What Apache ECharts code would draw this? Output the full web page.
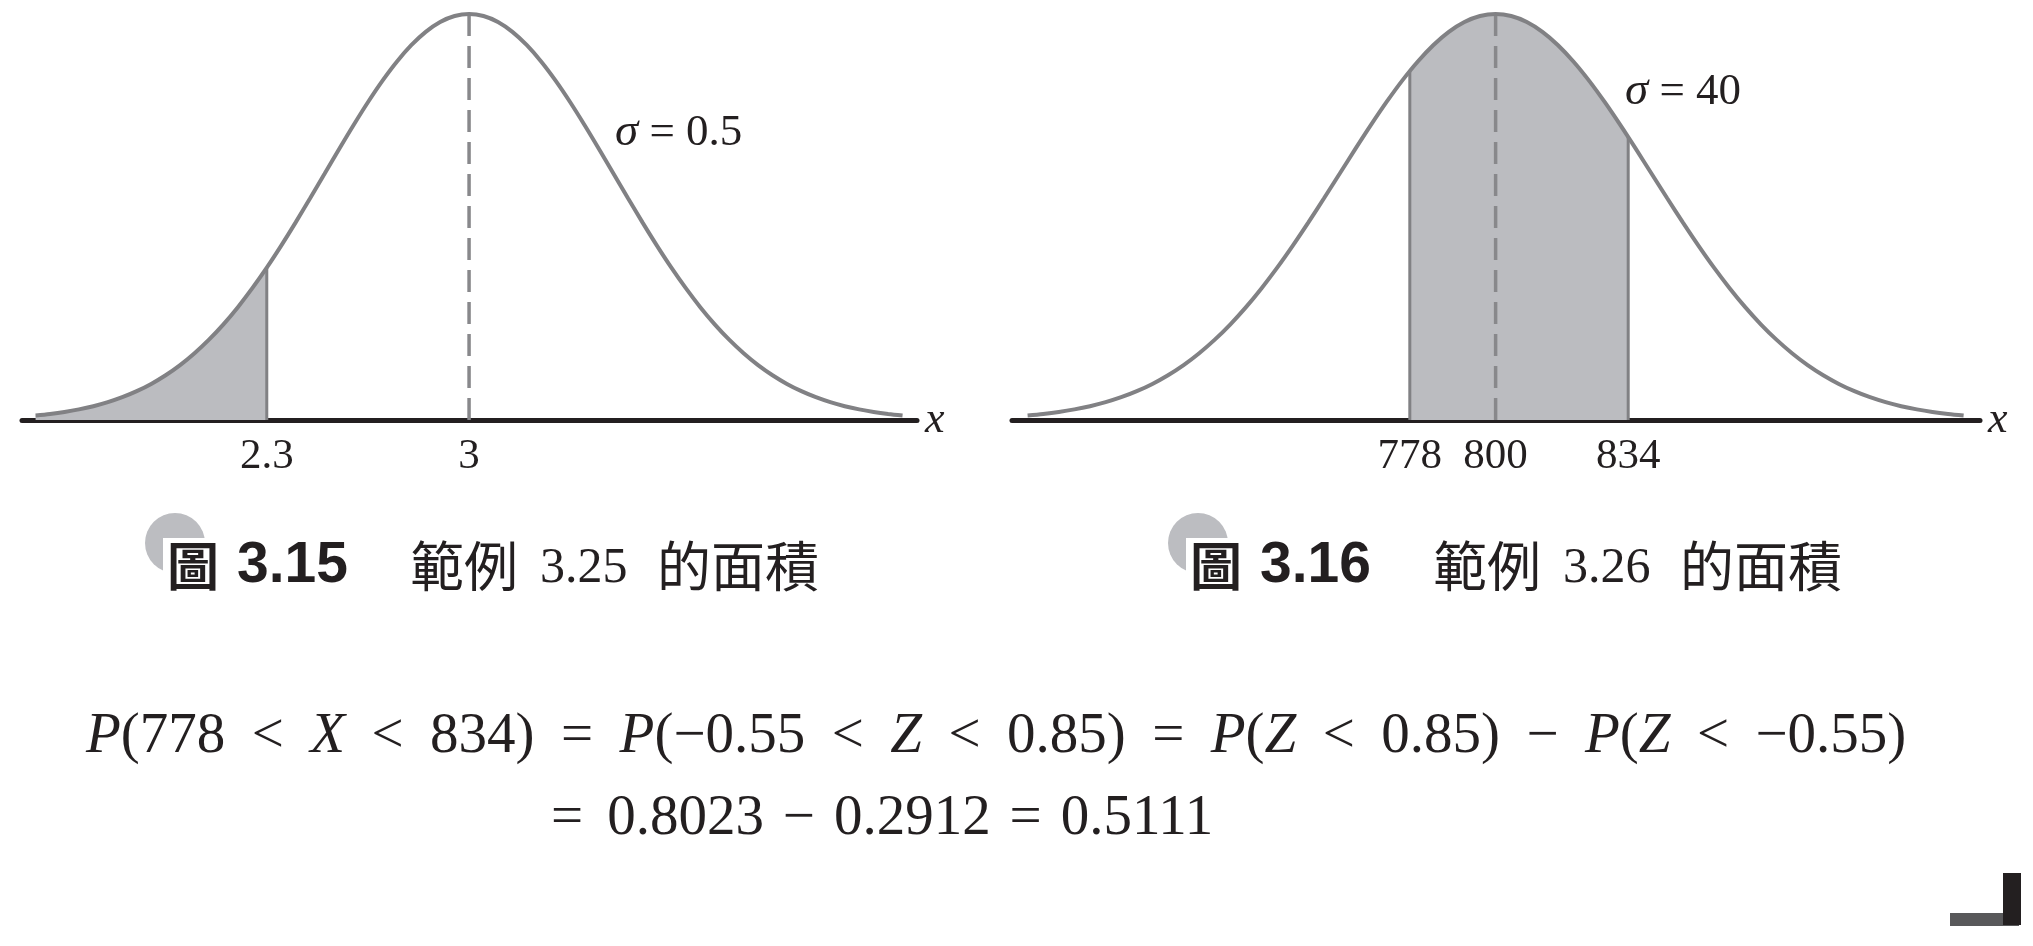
<!DOCTYPE html>
<html>
<head>
<meta charset="utf-8">
<script src="https://cdn.jsdelivr.net/npm/echarts@6/dist/echarts.min.js"></script>
<style>
html,body{margin:0;padding:0;background:#fff;}
#chart{width:2033px;height:946px;}
</style>
</head>
<body>
<div id="chart"></div>
<script>
// ---- data ----
// relative curve height (peak = 1) at the sampled x positions
var curveHeight = [0.0111,0.0149,0.0198,0.0261,0.0340,0.0439,0.0561,0.0710,0.0889,0.1103,0.1353,0.1645,0.1979,0.2357,0.2780,0.3247,0.3753,0.4296,0.4868,0.5461,0.6065,0.6670,0.7261,0.7827,0.8353,0.8825,0.9231,0.9560,0.9802,0.9950,1,0.9950,0.9802,0.9560,0.9231,0.8825,0.8353,0.7827,0.7261,0.6670,0.6065,0.5461,0.4868,0.4296,0.3753,0.3247,0.2780,0.2357,0.1979,0.1645,0.1353,0.1103,0.0889,0.0710,0.0561,0.0439,0.0340,0.0261,0.0198,0.0149,0.0111];
// left figure (mu = 3, sigma = 0.5)
var leftX = [1.5,1.55,1.6,1.65,1.7,1.75,1.8,1.85,1.9,1.95,2,2.05,2.1,2.15,2.2,2.25,2.3,2.35,2.4,2.45,2.5,2.55,2.6,2.65,2.7,2.75,2.8,2.85,2.9,2.95,3,3.05,3.1,3.15,3.2,3.25,3.3,3.35,3.4,3.45,3.5,3.55,3.6,3.65,3.7,3.75,3.8,3.85,3.9,3.95,4,4.05,4.1,4.15,4.2,4.25,4.3,4.35,4.4,4.45,4.5];
var leftMean = 3;
var leftTicks = [2.3, 3];
var leftCut = [2.3];          // shaded: x < 2.3
var leftCutH = [0.3753];
// right figure (mu = 800, sigma = 40)
var rightX = [680,684,688,692,696,700,704,708,712,716,720,724,728,732,736,740,744,748,752,756,760,764,768,772,776,780,784,788,792,796,800,804,808,812,816,820,824,828,832,836,840,844,848,852,856,860,864,868,872,876,880,884,888,892,896,900,904,908,912,916,920];
var rightMean = 800;
var rightTicks = [778, 800, 834];
var rightCut = [778, 834];    // shaded: 778 < x < 834
var rightCutH = [0.8596, 0.6968];
// texts
var sigmaLeft = '0.5', sigmaRight = '40';
var captionLeft = {num: '3.15', ex: '3.25'};
var captionRight = {num: '3.16', ex: '3.26'};

// ---- build ----
function pairs(xs, ys){ return xs.map(function(x,i){ return [x, ys[i]]; }); }
function shadePts(xs, cut, cutH){
  var pts = [];
  var lo = cut.length === 2 ? cut[0] : -Infinity, hi = cut.length === 2 ? cut[1] : cut[0];
  if (cut.length === 2) pts.push([cut[0], cutH[0]]);
  xs.forEach(function(x,i){ if (x > lo && x < hi) pts.push([x, curveHeight[i]]); });
  pts.push([hi, cutH[cutH.length-1]]);
  return pts;
}
var CURVE = '#818184', FILL = '#bbbcc0', AXIS = '#231f20', TXT = '#231f20';
var SERIF = '"Liberation Serif","Times New Roman",serif';
var CJK = '"Noto Sans CJK TC","Noto Sans CJK SC",sans-serif';

function xAxisDef(gi, mn, mx, ticks){
  return {
    type:'value', gridIndex: gi, min: mn, max: mx,
    axisLine:{show:true, onZero:false, lineStyle:{color:AXIS, width:5}},
    axisTick:{show:false}, splitLine:{show:false},
    axisLabel:{customValues: ticks, fontSize:43, fontFamily:SERIF, color:TXT, margin:15},
    name:'x', nameLocation:'end', nameGap:8,
    nameTextStyle:{fontSize:44, fontStyle:'italic', fontFamily:SERIF, color:TXT, verticalAlign:'middle', padding:[12,0,0,0]}
  };
}
function yAxisDef(gi){ return {type:'value', gridIndex: gi, min:0, max:1, show:false}; }

function figSeries(ai, xs, mean, cutX, cutH){
  var s = [];
  s.push({type:'line', xAxisIndex:ai, yAxisIndex:ai, data:shadePts(xs, cutX, cutH), smooth:0.3, symbol:'none',
    lineStyle:{width:0}, areaStyle:{color:FILL, opacity:1}, z:1, silent:true});
  cutX.forEach(function(c,i){
    s.push({type:'line', xAxisIndex:ai, yAxisIndex:ai, data:[[c,0],[c,cutH[i]]], symbol:'none',
      lineStyle:{color:CURVE, width:3}, z:2, silent:true});
  });
  s.push({type:'line', xAxisIndex:ai, yAxisIndex:ai, data:[[mean,1],[mean,0]], symbol:'none',
    lineStyle:{color:'#88888b', width:3.5, type:[22,10]}, z:2, silent:true});
  s.push({type:'line', xAxisIndex:ai, yAxisIndex:ai, data:pairs(xs, curveHeight), smooth:0.3, symbol:'none',
    lineStyle:{color:CURVE, width:4}, z:3, silent:true});
  return s;
}

function caption(cx, offs, cap){
  return [
    {type:'circle', shape:{cx:cx+offs.circle, cy:543, r:30}, style:{fill:'#bcbdc1'}, z:1},
    {type:'rect', shape:{x:cx+offs.rect, y:538, width:58, height:58}, style:{fill:'#fff'}, z:2},
    {type:'text', x:cx+offs.tu, y:566, z:3, style:{text:'圖', fontSize:52, fontWeight:'bold', fontFamily:CJK, fill:TXT, textAlign:'left', textVerticalAlign:'middle'}},
    {type:'text', x:cx+offs.num, y:566, z:3, style:{text:cap.num, fontSize:57, fontWeight:'bold', fontFamily:'"Liberation Sans",Arial,sans-serif', fill:TXT, textAlign:'left', textVerticalAlign:'middle'}},
    {type:'text', x:cx+offs.a, y:566, z:3, style:{text:'範例', fontSize:54, fontFamily:CJK, fill:TXT, textAlign:'left', textVerticalAlign:'middle'}},
    {type:'text', x:cx+offs.ex, y:569, z:3, style:{text:cap.ex, fontSize:50, fontFamily:SERIF, fill:TXT, textAlign:'left', textVerticalAlign:'middle'}},
    {type:'text', x:cx+offs.b, y:566, z:3, style:{text:'的面積', fontSize:54, fontFamily:CJK, fill:TXT, textAlign:'left', textVerticalAlign:'middle'}}
  ];
}

var rich1 = {
  i:{fontStyle:'italic', fontSize:57, fontFamily:SERIF, fill:TXT},
  o:{fontSize:57, fontFamily:SERIF, fill:TXT, width:85, align:'center'},
  n:{fontSize:57, fontFamily:SERIF, fill:TXT}
};
var rich2 = {
  o:{fontSize:57, fontFamily:SERIF, fill:TXT, width:70, align:'center'},
  sp:{fontSize:57, fontFamily:SERIF, fill:TXT, width:24},
  n:{fontSize:57, fontFamily:SERIF, fill:TXT}
};
var line1 = '{i|P}{n|(778}{o|<}{i|X}{o|<}{n|834)}{o|=}{i|P}{n|(−0.55}{o|<}{i|Z}{o|<}{n|0.85)}{o|=}{i|P}{n|(}{i|Z}{o|<}{n|0.85)}{o|−}{i|P}{n|(}{i|Z}{o|<}{n|−0.55)}';
var line2 = '{n|=}{sp| }{n|0.8023}{o|−}{n|0.2912}{o|=}{n|0.5111}';

var offL = {circle:0, rect:-12, tu:-8, num:62, a:235, ex:365, b:482};
var sigmaRich = {s:{fontStyle:'italic', fontSize:47, fontFamily:SERIF, fill:TXT}};
var graphics = []
  .concat(caption(175, offL, captionLeft))
  .concat(caption(1198, offL, captionRight))
  .concat([
    {type:'text', x:615, y:133, style:{text:'{s|σ} = '+sigmaLeft, rich:sigmaRich, fontSize:45, fontFamily:SERIF, fill:TXT, textAlign:'left', textVerticalAlign:'middle'}},
    {type:'text', x:1625, y:92, style:{text:'{s|σ} = '+sigmaRight, rich:sigmaRich, fontSize:45, fontFamily:SERIF, fill:TXT, textAlign:'left', textVerticalAlign:'middle'}},
    {type:'text', x:86, y:737, style:{text:line1, rich:rich1, fontSize:57, fontFamily:SERIF, fill:TXT, textAlign:'left', textVerticalAlign:'middle'}},
    {type:'text', x:551, y:819, style:{text:line2, rich:rich2, fontSize:57, fontFamily:SERIF, fill:TXT, textAlign:'left', textVerticalAlign:'middle'}},
    {type:'rect', shape:{x:1950, y:913, width:69, height:13}, style:{fill:'#58585a'}},
    {type:'rect', shape:{x:2003, y:873, width:18, height:52}, style:{fill:'#231f20'}}
  ]);

var option = {
  animation:false,
  backgroundColor:'#fff',
  grid:[
    {left:22, top:14, width:895, height:406},
    {left:1012, top:14, width:968, height:406}
  ],
  xAxis:[ xAxisDef(0, 1.453, 4.55, leftTicks), xAxisDef(1, 676, 924.2, rightTicks) ],
  yAxis:[ yAxisDef(0), yAxisDef(1) ],
  series: figSeries(0, leftX, leftMean, leftCut, leftCutH)
    .concat(figSeries(1, rightX, rightMean, rightCut, rightCutH)),
  graphic: graphics
};
var chart = echarts.init(document.getElementById('chart'));
chart.setOption(option);
</script>
</body>
</html>
